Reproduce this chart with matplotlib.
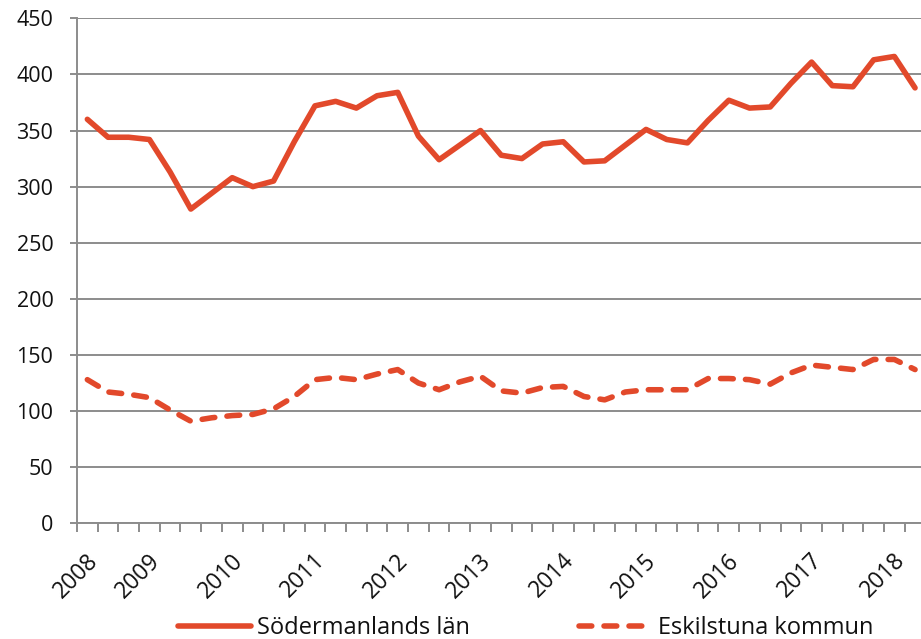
import matplotlib
matplotlib.use("Agg")
import matplotlib.pyplot as plt
from matplotlib.transforms import blended_transform_factory, ScaledTranslation

plt.rcParams['font.family'] = ['Open Sans', 'DejaVu Sans']

# Quarterly values, 41 points
sodermanland = [360, 344, 344, 342, 313, 280, 294, 308, 300, 305,
                340, 372, 376, 370, 381, 384, 345, 324, 337, 350,
                328, 325, 338, 340, 322, 323, 337, 351, 342, 339,
                359, 377, 370, 371, 392, 411, 390, 389, 413, 416, 388]
eskilstuna = [128, 117, 115, 112, 101, 91, 94, 96, 97, 102,
              113, 128, 130, 128, 133, 137, 125, 119, 126, 131,
              118, 116, 121, 122, 113, 110, 117, 119, 119, 119,
              129, 129, 128, 124, 134, 141, 139, 137, 146, 146, 137]
year_labels = ['2008', '2009', '2010', '2011', '2012', '2013', '2014',
               '2015', '2016', '2017', '2018']
label_idx = [0, 3, 7, 11, 15, 19, 23, 27, 31, 35, 39]
series_names = ['Södermanlands län', 'Eskilstuna kommun']

W, H = 921, 639
fig = plt.figure(figsize=(W / 100, H / 100), dpi=100)
left, right, top, bottom = 77 / W, 925.4 / W, 18.3 / H, 523.3 / H
ax = fig.add_axes([left, 1 - bottom, right - left, bottom - top])

color = '#E2492B'
grid_c = '#8C8C8C'
fs = 15.5
x = list(range(len(sodermanland)))
ax.plot(x, sodermanland, color=color, lw=4.0, solid_capstyle='round',
        solid_joinstyle='round', label=series_names[0])
ax.plot(x, eskilstuna, color=color, lw=4.0, dashes=(2.3, 2.2),
        dash_capstyle='round', label=series_names[1])

ax.set_xlim(-0.5, len(x) - 0.5)
ax.set_ylim(0, 450)
ax.set_yticks(range(0, 451, 50))
ax.yaxis.grid(True, color=grid_c, lw=1.4)
ax.set_axisbelow(True)
for s in ['top', 'right']:
    ax.spines[s].set_visible(False)
for s in ['left', 'bottom']:
    ax.spines[s].set_color(grid_c)
    ax.spines[s].set_linewidth(1.4)

ax.tick_params(axis='y', length=5, width=1.4, color=grid_c, pad=12,
               labelsize=fs, labelcolor='#111111')
ax.set_xticks([i - 0.5 for i in range(len(x) + 1)], minor=True)
ax.set_xticks([])
ax.tick_params(axis='x', which='minor', length=6.5, width=1.4, color=grid_c)

trans = blended_transform_factory(ax.transData, ax.transAxes) + \
    ScaledTranslation(7 / 100, -34 / 100, fig.dpi_scale_trans)
for i, lab in zip(label_idx, year_labels):
    ax.text(i, 0, lab, transform=trans, rotation=45, rotation_mode='anchor',
            ha='right', va='center', fontsize=16.5, color='#111111')

leg = fig.legend(loc='center left', bbox_to_anchor=(178 / W, 1 - 628 / H),
                 ncol=2, frameon=False, fontsize=17, handlelength=3.1,
                 handletextpad=0.25, columnspacing=4.6, borderpad=0,
                 borderaxespad=0)
for t in leg.get_texts():
    t.set_color('#111111')

fig.savefig('out.png', dpi=100)
